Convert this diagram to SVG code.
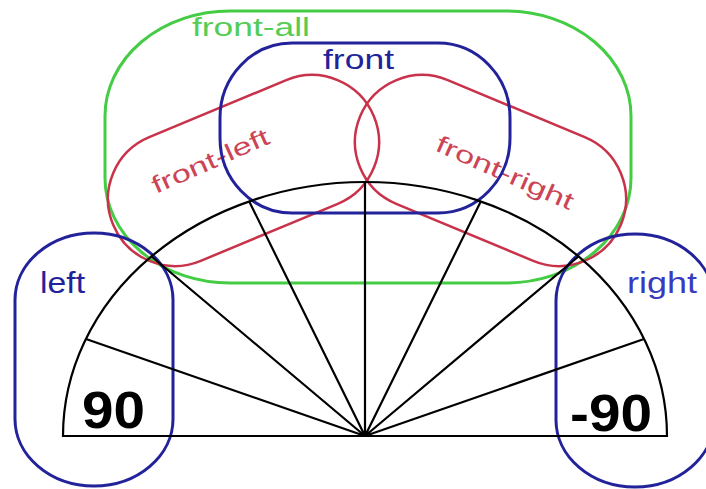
<svg xmlns="http://www.w3.org/2000/svg" width="706" height="489" viewBox="0 0 706 489">
<style>
.g{fill:none;stroke:#44cc44;stroke-width:3}
.b{fill:none;stroke:#22229a;stroke-width:3}
.r{fill:none;stroke:#c8324a;stroke-width:2.5}
.k{fill:none;stroke:#000;stroke-width:2.2}
text{font-family:"Liberation Sans",Arial,sans-serif}
.tb{fill:#22229a}
.tr{fill:#cc4455}
.tg{fill:#55cc55}
.num{font-weight:bold;fill:#000}
</style>
<rect width="706" height="489" fill="#fff"/>
<g id="front-all">
<rect class="g" x="105" y="11" width="526" height="272" rx="125" ry="105"/>
<text class="tg" x="192" y="36" font-size="25" textLength="118" lengthAdjust="spacingAndGlyphs">front-all</text>
</g>
<g id="front-left">
<rect class="r" x="102.3" y="103.5" width="282.4" height="134" rx="67" ry="67" transform="rotate(-22.6 243.5 170.5)"/>
<text class="tr" x="156" y="194" font-size="24" textLength="126" lengthAdjust="spacingAndGlyphs" transform="rotate(-24 156 194)">front-left</text>
</g>
<g id="front-right">
<rect class="r" x="349.3" y="103.5" width="282.4" height="134" rx="67" ry="67" transform="rotate(22.6 490.5 170.5)"/>
<text class="tr" x="434" y="150" font-size="24" textLength="148" lengthAdjust="spacingAndGlyphs" transform="rotate(24 434 150)">front-right</text>
</g>
<g id="front">
<rect class="b" x="220" y="43" width="290" height="170" rx="72" ry="75"/>
<text class="tb" x="323" y="69" font-size="28" textLength="71" lengthAdjust="spacingAndGlyphs">front</text>
</g>
<g id="left">
<rect class="b" x="15" y="233" width="158" height="253" rx="79" ry="67"/>
<text class="tb" x="40" y="293" font-size="29" textLength="45" lengthAdjust="spacingAndGlyphs">left</text>
</g>
<g id="right">
<rect class="b" x="556" y="234" width="158" height="253" rx="79" ry="67"/>
<text fill="#3a3ac0" x="627" y="293" font-size="29" textLength="70" lengthAdjust="spacingAndGlyphs">right</text>
</g>
<g id="connectors">
<path class="k" d="M63,436 A302,254 0 0 1 667,436 Z"/>
<path class="k" d="M365,436 L86,339 M365,436 L151,256 M365,436 L249,201 M365,436 L365,182 M365,436 L481,201 M365,436 L579,256 M365,436 L644,339"/>
</g>
<g id="labels">
<text class="num" x="82" y="428" font-size="51" textLength="63" lengthAdjust="spacingAndGlyphs">90</text>
<text class="num" x="570" y="431" font-size="51" textLength="82" lengthAdjust="spacingAndGlyphs">-90</text>
</g>
</svg>
